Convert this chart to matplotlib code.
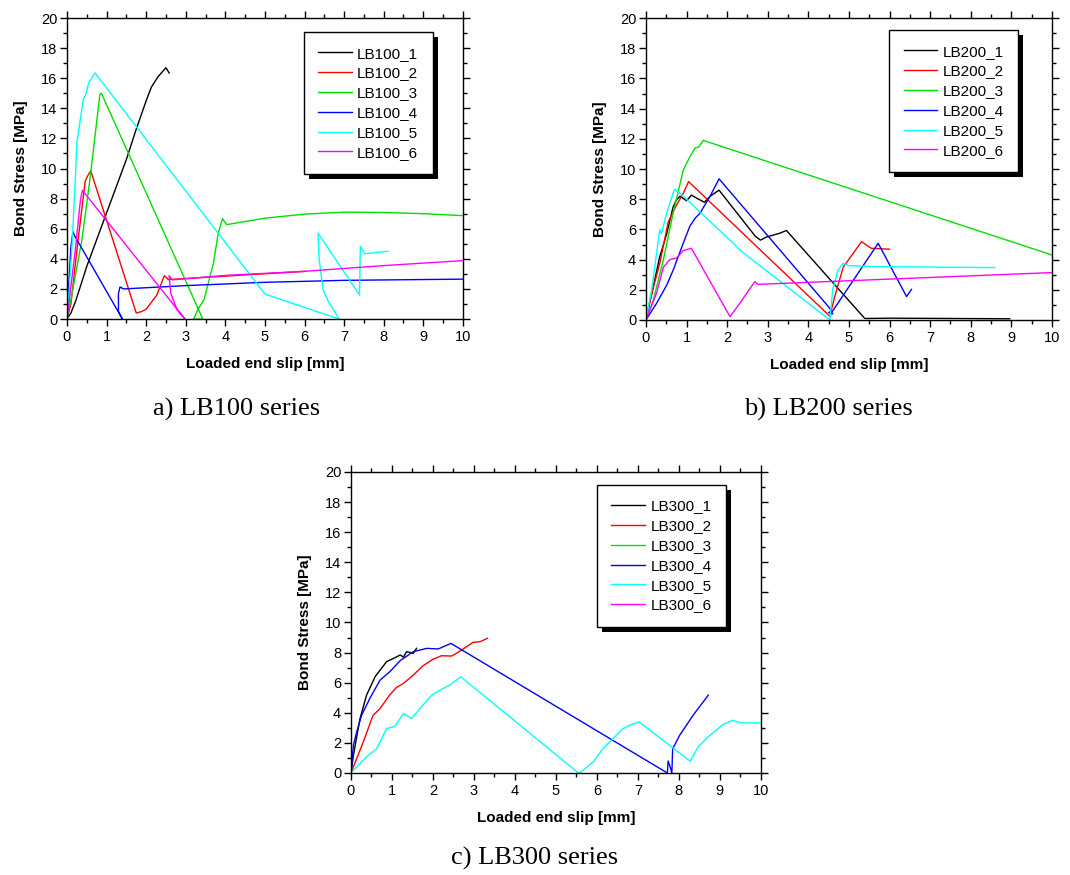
import matplotlib
matplotlib.use('Agg')
import matplotlib.pyplot as plt
from matplotlib.patches import Rectangle
from matplotlib.transforms import IdentityTransform
from matplotlib.ticker import MultipleLocator

plt.rcParams['font.family'] = ['Liberation Sans', 'DejaVu Sans']

# ----- DATA -----
# LB100 series
lb100_1_x = [0, 0.1, 0.22, 0.5, 1.0, 1.5, 1.76, 2.0, 2.13, 2.3, 2.5, 2.58]
lb100_1_y = [0, 0.4, 1.2, 3.5, 7.05, 10.6, 12.7, 14.5, 15.4, 16.1, 16.7, 16.35]
lb100_2_x = [0, 0.1, 0.26, 0.46, 0.52, 0.6, 1.75, 1.89, 2.0, 2.27, 2.46, 2.56, 4.0, 6.03]
lb100_2_y = [0, 1.0, 4.8, 9.15, 9.5, 9.85, 0.4, 0.5, 0.65, 1.6, 2.88, 2.62, 2.85, 3.17]
lb100_3_x = [0, 0.1, 0.38, 0.59, 0.83, 0.87, 3.43, 3.2, 3.3, 3.46, 3.7, 3.82, 3.93, 4.03, 5.0, 6.0, 7.0, 8.0, 9.0, 10.0]
lb100_3_y = [0, 1.3, 5.3, 9.5, 14.9, 15.0, 0.0, 0.0, 0.6, 1.28, 3.72, 5.7, 6.67, 6.27, 6.7, 6.97, 7.1, 7.08, 7.0, 6.87]
lb100_4_x = [0, 0.05, 0.1, 0.15, 0.2, 1.4, 1.3, 1.3, 1.34, 1.43, 3.0, 5.0, 7.0, 10.0]
lb100_4_y = [0, 2.5, 4.8, 5.8, 5.5, 0.0, 0.5, 1.7, 2.13, 2.0, 2.22, 2.44, 2.57, 2.65]
lb100_5_x = [0, 0.04, 0.13, 0.21, 0.25, 0.35, 0.42, 0.46, 0.55, 0.71, 5.0, 6.87, 6.76, 6.6, 6.47, 6.37, 6.34, 7.39, 7.41, 7.52, 8.11]
lb100_5_y = [0, 1.3, 5.0, 9.3, 11.7, 13.5, 14.7, 14.8, 15.7, 16.35, 1.66, 0.0, 0.5, 1.17, 1.95, 3.94, 5.71, 1.6, 4.83, 4.34, 4.5]
lb100_6_x = [0, 0.04, 0.21, 0.34, 0.39, 2.98, 2.78, 2.62, 2.58, 2.66, 4.0, 6.0, 8.0, 10.0]
lb100_6_y = [0, 0.84, 4.6, 7.9, 8.55, 0.0, 0.62, 1.73, 2.88, 2.6, 2.9, 3.17, 3.55, 3.88]

# LB200 series
lb200_1_x = [0, 0.18, 0.34, 0.51, 0.67, 0.75, 0.84, 1.0, 1.12, 1.25, 1.44, 1.58, 1.80, 2.69, 2.82, 2.97, 3.3, 3.46, 5.39, 6.0, 7.5, 8.96]
lb200_1_y = [0, 2.2, 4.2, 5.7, 7.5, 7.96, 8.2, 7.9, 8.27, 8.07, 7.8, 8.2, 8.6, 5.56, 5.29, 5.5, 5.75, 5.93, 0.1, 0.12, 0.1, 0.08]
lb200_2_x = [0, 0.1, 0.34, 0.55, 0.75, 0.92, 1.05, 4.54, 4.58, 4.65, 4.86, 5.31, 5.55, 6.0]
lb200_2_y = [0, 1.3, 3.76, 6.5, 7.6, 8.4, 9.17, 0.22, 0.8, 1.55, 3.5, 5.19, 4.75, 4.69]
lb200_3_x = [0, 0.18, 0.43, 0.67, 0.92, 1.08, 1.21, 1.3, 1.41, 10.0]
lb200_3_y = [0, 1.3, 4.0, 7.1, 9.94, 10.8, 11.4, 11.45, 11.9, 4.31]
lb200_4_x = [0, 0.26, 0.51, 0.67, 0.92, 1.08, 1.21, 1.33, 1.58, 1.80, 4.53, 4.6, 4.5, 4.6, 5.72, 6.42, 6.54]
lb200_4_y = [0, 1.1, 2.3, 3.3, 5.1, 6.2, 6.74, 7.07, 8.2, 9.35, 0.77, 0.4, 0.5, 0.6, 5.08, 1.55, 2.03]
lb200_5_x = [0, 0.14, 0.34, 0.38, 0.51, 0.70, 0.84, 2.4, 4.53, 4.6, 4.73, 4.86, 5.0, 5.6, 8.59]
lb200_5_y = [0, 2.0, 5.97, 5.7, 7.07, 8.66, 8.4, 4.45, 0.0, 2.0, 3.3, 3.76, 3.6, 3.54, 3.47]
lb200_6_x = [0, 0.26, 0.43, 0.59, 0.75, 0.92, 1.12, 2.07, 2.31, 2.68, 2.76, 10.0]
lb200_6_y = [0, 1.77, 3.5, 4.0, 4.1, 4.6, 4.75, 0.22, 1.1, 2.54, 2.36, 3.14]

# LB300 series
lb300_1_x = [0, 0.06, 0.22, 0.38, 0.59, 0.87, 1.03, 1.2, 1.28, 1.36, 1.52, 1.6]
lb300_1_y = [0, 1.18, 3.6, 5.17, 6.4, 7.4, 7.6, 7.84, 7.7, 8.06, 7.95, 8.28]
lb300_2_x = [0, 0.3, 0.54, 0.71, 0.95, 1.11, 1.28, 1.52, 1.76, 2.0, 2.21, 2.46, 2.7, 2.98, 3.15, 3.33]
lb300_2_y = [0, 2.06, 3.84, 4.28, 5.2, 5.68, 5.95, 6.5, 7.13, 7.55, 7.79, 7.77, 8.17, 8.68, 8.72, 8.95]
lb300_3_x = []
lb300_3_y = []
lb300_4_x = [0, 0.06, 0.14, 0.26, 0.46, 0.71, 0.95, 1.2, 1.52, 1.85, 2.13, 2.44, 7.72, 7.74, 7.8, 7.83, 7.85, 8.02, 8.35, 8.72]
lb300_4_y = [0, 1.84, 2.73, 3.84, 4.95, 6.17, 6.73, 7.46, 8.06, 8.28, 8.24, 8.61, 0.0, 0.8, 0.3, 0.0, 1.6, 2.5, 3.84, 5.17]
lb300_5_x = [0, 0.38, 0.63, 0.87, 1.07, 1.28, 1.48, 1.72, 1.97, 2.17, 2.41, 2.68, 5.55, 5.63, 5.91, 6.15, 6.64, 6.8, 7.03, 8.28, 8.47, 8.76, 9.08, 9.31, 9.51, 10.0]
lb300_5_y = [0, 1.07, 1.62, 2.95, 3.1, 3.95, 3.62, 4.4, 5.17, 5.5, 5.84, 6.39, 0.0, 0.1, 0.73, 1.62, 2.95, 3.17, 3.4, 0.78, 1.73, 2.5, 3.22, 3.5, 3.33, 3.33]
lb300_6_x = []
lb300_6_y = []

colors = ['black', '#ff0000', '#00e000', '#0000ff', '#00ffff', '#ff00ff']


def setup_axes(ax):
    ax.set_xlim(0, 10)
    ax.set_ylim(0, 20)
    ax.xaxis.set_major_locator(MultipleLocator(1))
    ax.xaxis.set_minor_locator(MultipleLocator(0.5))
    ax.yaxis.set_major_locator(MultipleLocator(2))
    ax.yaxis.set_minor_locator(MultipleLocator(1))
    ax.tick_params(which='both', direction='out', top=True, right=True, width=1)
    ax.tick_params(which='major', length=5, labelsize=10.5)
    ax.tick_params(axis='x', which='major', pad=3)
    ax.tick_params(axis='y', which='major', pad=2)
    ax.tick_params(which='minor', length=3)
    for s in ax.spines.values():
        s.set_linewidth(1)
    ax.set_xlabel('Loaded end slip [mm]', fontsize=11, weight='bold', labelpad=9)
    ax.set_ylabel('Bond Stress [MPa]', fontsize=11, weight='bold', labelpad=9)


def add_legend(ax, x0, y0):
    leg = ax.legend(loc='upper left', bbox_to_anchor=(x0, y0), borderaxespad=0,
                    fontsize=11, fancybox=False, framealpha=1, edgecolor='black',
                    handlelength=2.2, handletextpad=0.35, labelspacing=0.38,
                    borderpad=0.95)
    leg.get_frame().set_linewidth(1)
    return leg


fig = plt.figure(figsize=(10.7, 8.75), dpi=100)

# ----- a) LB100 -----
ax1 = fig.add_axes([0.0626, 0.6354, 0.370, 0.344])
series_a = [(lb100_1_x, lb100_1_y), (lb100_2_x, lb100_2_y), (lb100_3_x, lb100_3_y),
            (lb100_4_x, lb100_4_y), (lb100_5_x, lb100_5_y), (lb100_6_x, lb100_6_y)]
for i, (x, y) in enumerate(series_a):
    ax1.plot(x, y, color=colors[i], lw=1.0, label='LB100_%d' % (i + 1))
setup_axes(ax1)
leg1 = add_legend(ax1, 0.598, 0.953)

# ----- b) LB200 -----
ax2 = fig.add_axes([0.6037, 0.6343, 0.3794, 0.345])
series_b = [(lb200_1_x, lb200_1_y), (lb200_2_x, lb200_2_y), (lb200_3_x, lb200_3_y),
            (lb200_4_x, lb200_4_y), (lb200_5_x, lb200_5_y), (lb200_6_x, lb200_6_y)]
for i, (x, y) in enumerate(series_b):
    ax2.plot(x, y, color=colors[i], lw=1.0, label='LB200_%d' % (i + 1))
setup_axes(ax2)
leg2 = add_legend(ax2, 0.599, 0.960)

# ----- c) LB300 -----
ax3 = fig.add_axes([0.328, 0.1166, 0.383, 0.344])
series_c = [(lb300_1_x, lb300_1_y), (lb300_2_x, lb300_2_y), (lb300_3_x, lb300_3_y),
            (lb300_4_x, lb300_4_y), (lb300_5_x, lb300_5_y), (lb300_6_x, lb300_6_y)]
for i, (x, y) in enumerate(series_c):
    ax3.plot(x, y, color=colors[i], lw=1.0, label='LB300_%d' % (i + 1))
setup_axes(ax3)
leg3 = add_legend(ax3, 0.600, 0.957)

# captions
cap = dict(fontsize=19, family=['Liberation Serif', 'DejaVu Serif'], ha='center', va='center')
fig.text(237 / 1070, 1 - 409 / 875, 'a) LB100 series', **cap)
fig.text(828 / 1070, 1 - 409 / 875, 'b) LB200 series', **cap)
fig.text(535 / 1070, 1 - 858 / 875, 'c) LB300 series', **cap)

# solid black drop shadow behind each legend box
fig.canvas.draw()
for ax, leg in [(ax1, leg1), (ax2, leg2), (ax3, leg3)]:
    bb = leg.get_window_extent()
    sh = Rectangle((bb.x0 + 5, bb.y0 - 5), bb.width, bb.height, transform=IdentityTransform(),
                   facecolor='black', edgecolor='none', zorder=4.9, clip_on=False)
    ax.add_patch(sh)

fig.savefig('out.png', dpi=100)
